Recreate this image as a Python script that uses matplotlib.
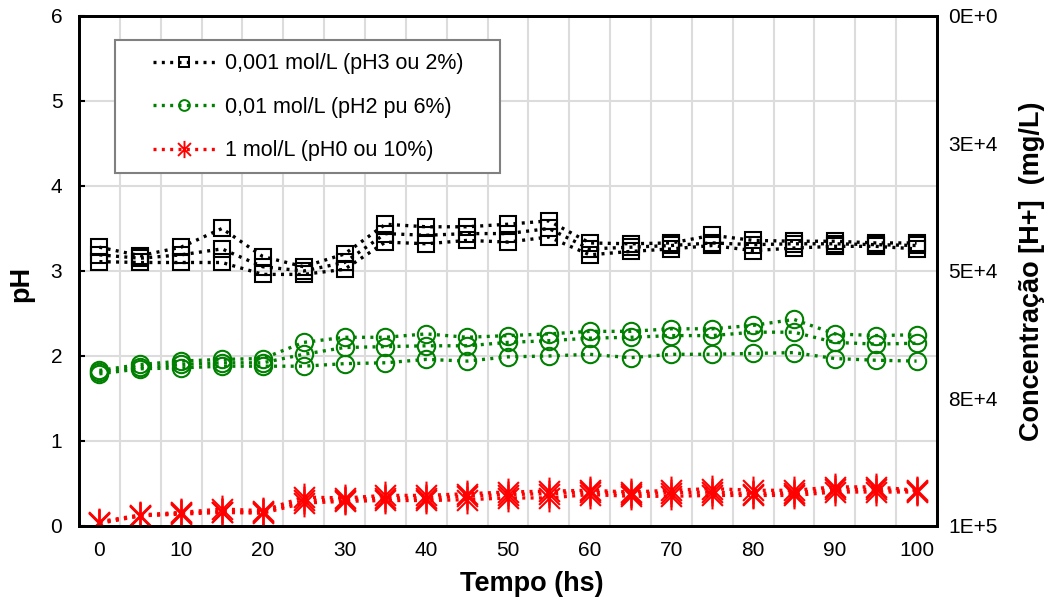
import numpy as np
import matplotlib
matplotlib.use("Agg")
import matplotlib.pyplot as plt
from matplotlib.lines import Line2D
from matplotlib.path import Path
from matplotlib.patches import Rectangle

plt.rcParams["font.family"] = ["Liberation Sans", "DejaVu Sans"]

# time (hs)
tempo = list(range(0, 101, 5))

# 0,001 mol/L - three replicates
ph3_a = [3.28, 3.18, 3.28, 3.50, 3.17, 3.05, 3.20, 3.55, 3.52, 3.52, 3.55,
         3.59, 3.33, 3.32, 3.33, 3.42, 3.36, 3.35, 3.35, 3.33, 3.33]
ph3_b = [3.19, 3.15, 3.19, 3.26, 3.05, 3.00, 3.10, 3.44, 3.42, 3.44, 3.44,
         3.50, 3.26, 3.28, 3.30, 3.33, 3.31, 3.32, 3.32, 3.31, 3.30]
ph3_c = [3.11, 3.10, 3.10, 3.10, 2.96, 2.96, 3.02, 3.34, 3.32, 3.36, 3.34,
         3.40, 3.19, 3.23, 3.26, 3.30, 3.24, 3.27, 3.29, 3.29, 3.26]

# 0,01 mol/L
ph2_a = [1.83, 1.90, 1.94, 1.96, 1.97, 2.16, 2.22, 2.22, 2.26, 2.22, 2.24,
         2.26, 2.29, 2.29, 2.32, 2.32, 2.36, 2.43, 2.26, 2.24, 2.25]
ph2_b = [1.81, 1.87, 1.90, 1.92, 1.92, 2.02, 2.10, 2.11, 2.12, 2.12, 2.16,
         2.18, 2.21, 2.22, 2.24, 2.24, 2.28, 2.28, 2.16, 2.14, 2.15]
ph2_c = [1.79, 1.85, 1.86, 1.88, 1.88, 1.88, 1.91, 1.92, 1.96, 1.94, 1.99,
         2.00, 2.02, 1.98, 2.02, 2.02, 2.03, 2.04, 1.97, 1.95, 1.94]

# 1 mol/L
ph0_a = [0.05, 0.13, 0.16, 0.20, 0.18, 0.34, 0.33, 0.36, 0.36, 0.38, 0.40,
         0.41, 0.42, 0.40, 0.42, 0.44, 0.42, 0.42, 0.46, 0.46, 0.42]
ph0_b = [0.04, 0.12, 0.15, 0.17, 0.16, 0.30, 0.31, 0.33, 0.33, 0.35, 0.37,
         0.38, 0.40, 0.38, 0.39, 0.40, 0.38, 0.39, 0.43, 0.43, 0.41]
ph0_c = [0.03, 0.12, 0.14, 0.16, 0.15, 0.27, 0.29, 0.30, 0.30, 0.31, 0.33,
         0.33, 0.37, 0.35, 0.35, 0.36, 0.36, 0.36, 0.40, 0.40, 0.40]

labels = ["0,001 mol/L (pH3 ou 2%)", "0,01 mol/L (pH2 pu 6%)",
          "1 mol/L (pH0 ou 10%)"]
conc_ticks = [0, 25000, 50000, 75000, 100000]
conc_labels = ["0E+0", "3E+4", "5E+4", "8E+4", "1E+5"]

# excel-like asterisk: vertical bar + X
star = Path([(0, -1), (0, 1), (-0.75, -0.75), (0.75, 0.75),
             (-0.75, 0.75), (0.75, -0.75)],
            [Path.MOVETO, Path.LINETO, Path.MOVETO, Path.LINETO,
             Path.MOVETO, Path.LINETO])

dots = (0, (0.9, 1.6))
styles = [
    ("black", "s", 11, [ph3_a, ph3_b, ph3_c]),
    ("#008000", "o", 12.5, [ph2_a, ph2_b, ph2_c]),
    ("red", star, 20, [ph0_a, ph0_b, ph0_c]),
]

fig = plt.figure(figsize=(10.5, 6.03), dpi=100)
ax = fig.add_axes([0.0752, 0.1277, 0.8172, 0.8458])

for color, mk, ms, reps in styles:
    for ys in reps:
        ax.plot(tempo, ys, linestyle=dots, linewidth=2.4, color=color,
                marker=mk, markersize=ms, markerfacecolor="none",
                markeredgecolor=color, markeredgewidth=1.5, zorder=3)

ax.set_xlim(-2.5, 102.5)
ax.set_ylim(0, 6)
ax.set_xticks(range(0, 101, 10))
ax.set_xticks(np.arange(-2.5, 103, 5), minor=True)
ax.set_yticks(range(0, 7))
ax.grid(True, which="minor", axis="x", color="#dcdcdc", linewidth=1.5)
ax.grid(True, which="major", axis="y", color="#dcdcdc", linewidth=1.5)
ax.set_axisbelow(True)
ax.tick_params(axis="x", which="both", length=0, pad=11, labelsize=15)
ax.tick_params(axis="y", direction="in", length=4, width=1.5, pad=12,
               labelsize=15)
for s in ax.spines.values():
    s.set_linewidth(2)

ax.set_xlabel("Tempo (hs)", fontsize=19.5, fontweight="bold")
ax.xaxis.set_label_coords(0.528, -0.088)
ax.set_ylabel("pH", fontsize=19.5, fontweight="bold")
ax.yaxis.set_label_coords(-0.052, 0.475)

ax2 = ax.twinx()
ax2.set_ylim(100000, 0)
ax2.set_yticks(conc_ticks)
ax2.set_yticklabels(conc_labels)
ax2.tick_params(axis="y", length=0, pad=8, labelsize=15)
ax2.set_ylabel("Concentração [H+]  (mg/L)", fontsize=19.5, fontweight="bold",
               labelpad=15)
for s in ax2.spines.values():
    s.set_linewidth(2)

# legend frame drawn as its own box (Excel pads it wider than the text)
frame = Rectangle((0.042, 0.692), 0.449, 0.261, transform=ax2.transAxes,
                  facecolor="white", edgecolor="#808080", linewidth=1.5,
                  zorder=9)
ax2.add_patch(frame)

handles = [
    Line2D([0], [0], color=c, linestyle=dots, linewidth=2.4, marker=mk,
           markersize=ms * 0.62, markerfacecolor="none", markeredgecolor=c,
           markeredgewidth=1.4)
    for c, mk, ms, _ in styles
]
leg = ax2.legend(handles, labels, loc="upper left",
                 bbox_to_anchor=(0.0762, 0.944), borderaxespad=0,
                 fontsize=15.5, handlelength=2.9, handletextpad=0.45,
                 labelspacing=1.05, borderpad=0.4, frameon=False)
leg.set_zorder(10)

fig.savefig("out.png", dpi=100)
